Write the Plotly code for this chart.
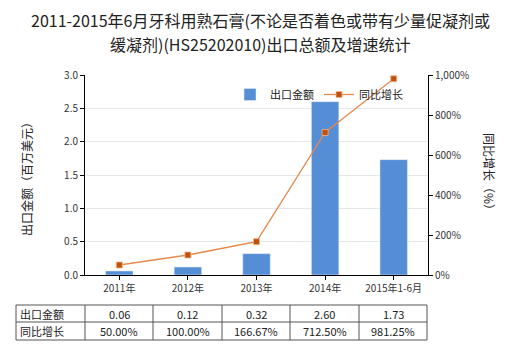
import plotly.graph_objects as go

categories = ["2011年", "2012年", "2013年", "2014年", "2015年1-6月"]
export_values = [0.06, 0.12, 0.32, 2.60, 1.73]
growth_values = [50.00, 100.00, 166.67, 712.50, 981.25]
export_labels = ["0.06", "0.12", "0.32", "2.60", "1.73"]
growth_labels = ["50.00%", "100.00%", "166.67%", "712.50%", "981.25%"]
row_names = ["出口金额", "同比增长"]
title_lines = ["2011-2015年6月牙科用熟石膏(不论是否着色或带有少量促凝剂或",
               "缓凝剂)(HS25202010)出口总额及增速统计"]

FONT = "Noto Sans CJK SC"
BAR = "#558ED5"
LINE = "#E58A4E"
MARK = "#C0500A"

fig = go.Figure()
fig.add_trace(go.Bar(x=categories, y=export_values, name="出口金额",
                     marker_color=BAR, width=0.4, yaxis="y"))
fig.add_trace(go.Scatter(x=categories, y=growth_values, name="同比增长",
                         mode="lines+markers", yaxis="y2",
                         line=dict(color=LINE, width=1.3),
                         marker=dict(symbol="square", size=6, color=MARK,
                                     line=dict(color="#F2B48A", width=0.8))))

L, R, T, B = 85, 428, 75, 275
W, H = R - L, B - T

def px(x):
    return (x - L) / W

def py(y):
    return (B - y) / H

shapes = []
annotations = []
# table grid
tx = [16, 85, 153, 222, 290, 359, 427]
ty = [305, 322, 340]
for yv in ty:
    shapes.append(dict(type="line", xref="paper", yref="paper",
                       x0=px(tx[0]), x1=px(tx[-1]), y0=py(yv), y1=py(yv),
                       line=dict(color="#555555", width=1)))
for xv in tx:
    shapes.append(dict(type="line", xref="paper", yref="paper",
                       x0=px(xv), x1=px(xv), y0=py(ty[0]), y1=py(ty[-1]),
                       line=dict(color="#555555", width=1)))
rows = [export_labels, growth_labels]
for r in range(2):
    yc = py((ty[r] + ty[r + 1]) / 2)
    annotations.append(dict(xref="paper", yref="paper", x=px(tx[0] + 2), y=yc,
                            text=row_names[r], showarrow=False, xanchor="left",
                            yanchor="middle",
                            font=dict(size=11, color="#222222", family=FONT)))
    for c in range(5):
        xc = px((tx[c + 1] + tx[c + 2]) / 2)
        annotations.append(dict(xref="paper", yref="paper", x=xc, y=yc,
                                text=rows[r][c], showarrow=False,
                                xanchor="center", yanchor="middle",
                                font=dict(size=11, color="#222222", family=FONT)))

annotations.append(dict(xref="paper", yref="paper", x=px(26), y=py(176),
                        text="出口金额（百万美元）", textangle=-90, showarrow=False,
                        xanchor="center", yanchor="middle",
                        font=dict(size=12, color="#222222", family=FONT)))
annotations.append(dict(xref="paper", yref="paper", x=px(490), y=py(174),
                        text="同比增长（%）", textangle=90, showarrow=False,
                        xanchor="center", yanchor="middle",
                        font=dict(size=12, color="#222222", family=FONT)))
for i, (line_text, yv) in enumerate(zip(title_lines, [20, 44])):
    annotations.append(dict(xref="paper", yref="paper", x=px(260), y=py(yv),
                            text=line_text, showarrow=False,
                            xanchor="center", yanchor="middle",
                            font=dict(size=16, color="#222222", family=FONT)))

fig.update_layout(
    width=520, height=350,
    margin=dict(l=L, r=520 - R, t=T, b=350 - B),
    paper_bgcolor="white", plot_bgcolor="white",
    font=dict(family=FONT, size=11, color="#333333"),
    showlegend=True,
    legend=dict(orientation="h", x=px(230), y=py(80), xanchor="left", yanchor="top",
                font=dict(size=11, color="#222222"), bgcolor="rgba(0,0,0,0)",
                itemwidth=30),
    xaxis=dict(showline=True, linecolor="black", linewidth=1, ticks="outside",
               ticklen=4, tickcolor="black",
               tickfont=dict(size=10, color="#333333")),
    yaxis=dict(range=[0, 3.0], dtick=0.5, tickformat=".1f", showline=True,
               linecolor="black", linewidth=1, ticks="outside", ticklen=4,
               tickcolor="black", gridcolor="#E3E8EC", zeroline=False,
               tickfont=dict(size=10, color="#333333")),
    yaxis2=dict(range=[0, 1000], dtick=200, overlaying="y", side="right",
                tickformat=",", ticksuffix="%", showline=True, linecolor="black",
                linewidth=1, ticks="outside", ticklen=4, tickcolor="black",
                showgrid=False, zeroline=False,
                tickfont=dict(size=10, color="#333333")),
    shapes=shapes, annotations=annotations,
)

fig.write_html("out.html")
